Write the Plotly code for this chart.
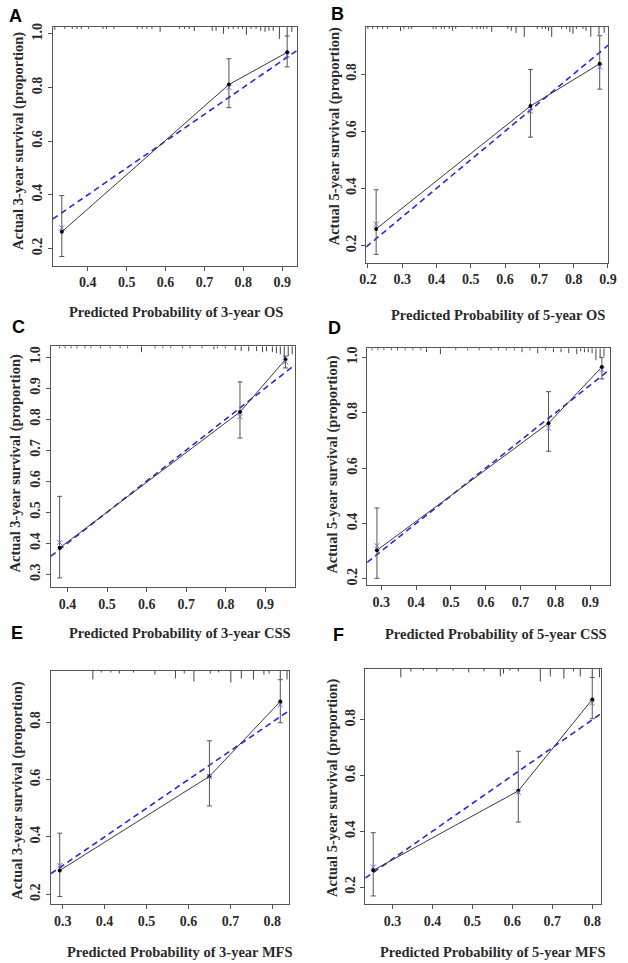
import plotly.graph_objects as go

W, H = 628, 963

# ---------------- data ----------------
panel_names = ["A", "B", "C", "D", "E", "F"]
x_titles = ["Predicted Probability of 3-year OS", "Predicted Probability of 5-year OS",
            "Predicted Probability of 3-year CSS", "Predicted Probability of 5-year CSS",
            "Predicted Probability of 3-year MFS", "Predicted Probability of 5-year MFS"]
y_titles = ["Actual 3-year survival (proportion)", "Actual 5-year survival (proportion)",
            "Actual 3-year survival (proportion)", "Actual 5-year survival (proportion)",
            "Actual 3-year survival (proportion)", "Actual 5-year survival (proportion)"]

A_pred = [0.333, 0.763, 0.913]
A_obs = [0.262, 0.811, 0.931]
A_lo = [0.170, 0.725, 0.877]
A_hi = [0.397, 0.907, 0.992]
A_bc = [0.277, 0.800, 0.920]
A_rug_x = [0.315, 0.341, 0.360, 0.372, 0.383, 0.402, 0.439, 0.448, 0.467, 0.527, 0.540, 0.552,
           0.565, 0.586, 0.636, 0.649, 0.661, 0.674, 0.720, 0.730, 0.749, 0.762, 0.774, 0.787,
           0.798, 0.808, 0.820, 0.833, 0.845, 0.856, 0.866, 0.877, 0.893, 0.913, 0.925]
A_rug_h = [3, 2, 2, 2, 2, 2, 2, 2, 2, 2, 2, 2,
           2, 5, 2, 2, 2, 4, 4, 4, 7, 2, 2, 2,
           2, 8, 2, 2, 4, 5, 4, 4, 12, 10, 5]

B_pred = [0.224, 0.674, 0.876]
B_obs = [0.258, 0.688, 0.836]
B_lo = [0.169, 0.579, 0.747]
B_hi = [0.395, 0.816, 0.934]
B_bc = [0.275, 0.670, 0.825]
B_rug_x = [0.200, 0.214, 0.228, 0.243, 0.257, 0.295, 0.305, 0.319, 0.328, 0.390, 0.399, 0.414,
           0.423, 0.437, 0.447, 0.456, 0.504, 0.518, 0.528, 0.537, 0.547, 0.561, 0.608, 0.618,
           0.632, 0.656, 0.694, 0.708, 0.718, 0.727, 0.736, 0.765, 0.779, 0.789, 0.798, 0.808,
           0.827, 0.836, 0.850, 0.874, 0.889]
B_rug_h = [2, 2, 2, 2, 2, 4, 2, 2, 2, 2, 2, 2,
           2, 2, 4, 2, 2, 2, 2, 2, 2, 5, 2, 4,
           6, 10, 2, 2, 2, 4, 10, 2, 2, 5, 7, 2,
           2, 4, 10, 8, 6]

C_pred = [0.380, 0.836, 0.951]
C_obs = [0.385, 0.823, 0.992]
C_lo = [0.288, 0.739, 0.965]
C_hi = [0.551, 0.920, 1.003]
C_bc = [0.402, 0.808, 0.985]
C_rug_x = [0.380, 0.394, 0.409, 0.424, 0.444, 0.459, 0.483, 0.508, 0.533, 0.552, 0.587, 0.621,
           0.641, 0.661, 0.691, 0.710, 0.740, 0.770, 0.779, 0.799, 0.824, 0.839, 0.858, 0.878,
           0.893, 0.903, 0.918, 0.928, 0.938, 0.948, 0.958, 0.968]
C_rug_h = [2, 2, 2, 2, 2, 2, 2, 2, 2, 2, 6, 2,
           2, 2, 2, 2, 2, 3, 2, 2, 4, 5, 5, 5,
           6, 5, 6, 7, 8, 12, 10, 8]

D_pred = [0.288, 0.780, 0.933]
D_obs = [0.303, 0.762, 0.965]
D_lo = [0.202, 0.661, 0.922]
D_hi = [0.456, 0.876, 1.000]
D_bc = [0.320, 0.745, 0.955]
D_rug_x = [0.274, 0.291, 0.308, 0.330, 0.347, 0.369, 0.391, 0.414, 0.430, 0.470, 0.514, 0.548,
           0.581, 0.615, 0.637, 0.659, 0.682, 0.704, 0.727, 0.749, 0.771, 0.794, 0.816, 0.838,
           0.861, 0.872, 0.883, 0.894, 0.905, 0.916, 0.928, 0.939]
D_rug_h = [2, 2, 2, 2, 2, 2, 2, 2, 4, 6, 2, 2,
           2, 2, 2, 2, 2, 4, 2, 5, 2, 4, 4, 5,
           6, 3, 4, 4, 5, 12, 10, 8]

E_pred = [0.293, 0.650, 0.819]
E_obs = [0.283, 0.611, 0.872]
E_lo = [0.192, 0.508, 0.798]
E_hi = [0.413, 0.735, 0.948]
E_bc = [0.300, 0.610, 0.860]
E_rug_x = [0.372, 0.392, 0.415, 0.435, 0.469, 0.520, 0.569, 0.590, 0.613, 0.652, 0.672, 0.701,
           0.726, 0.755, 0.780, 0.792, 0.819, 0.835]
E_rug_h = [9, 2, 2, 3, 2, 4, 8, 3, 11, 3, 2, 12,
           8, 9, 4, 3, 9, 9]

F_pred = [0.252, 0.615, 0.800]
F_obs = [0.260, 0.545, 0.873]
F_lo = [0.168, 0.433, 0.804]
F_hi = [0.395, 0.687, 0.952]
F_bc = [0.272, 0.540, 0.860]
F_rug_x = [0.321, 0.346, 0.378, 0.411, 0.452, 0.491, 0.529, 0.570, 0.578, 0.594, 0.615, 0.670,
           0.695, 0.729, 0.753, 0.770, 0.800, 0.818]
F_rug_h = [9, 3, 2, 3, 2, 4, 3, 8, 5, 2, 3, 13,
           8, 10, 3, 8, 9, 9]

x_ticks = [[0.4, 0.5, 0.6, 0.7, 0.8, 0.9],
           [0.2, 0.3, 0.4, 0.5, 0.6, 0.7, 0.8, 0.9],
           [0.4, 0.5, 0.6, 0.7, 0.8, 0.9],
           [0.3, 0.4, 0.5, 0.6, 0.7, 0.8, 0.9],
           [0.3, 0.4, 0.5, 0.6, 0.7, 0.8],
           [0.3, 0.4, 0.5, 0.6, 0.7, 0.8]]
y_ticks = [[0.2, 0.4, 0.6, 0.8, 1.0],
           [0.2, 0.4, 0.6, 0.8],
           [0.3, 0.4, 0.5, 0.6, 0.7, 0.8, 0.9, 1.0],
           [0.2, 0.4, 0.6, 0.8, 1.0],
           [0.2, 0.4, 0.6, 0.8],
           [0.2, 0.4, 0.6, 0.8]]
x_ranges = [[0.310, 0.938], [0.195, 0.901], [0.358, 0.975], [0.260, 0.957], [0.272, 0.840], [0.232, 0.823]]
y_ranges = [[0.136, 1.026], [0.140, 0.965], [0.259, 1.035], [0.178, 1.033], [0.165, 0.980], [0.138, 0.984]]

# ---------------- layout geometry (pixels) ----------------
boxes = [(47, 297, 23, 263), (368, 616, 23, 260),
         (45, 295, 344, 586), (369, 618, 346, 584),
         (45, 289, 670, 905), (367, 609, 668, 905)]
letter_pos = [(9, 12), (339, 10), (12, 325), (336, 326), (10, 632), (340, 634)]
xtitle_pos = [(173, 310), (503, 313), (177, 632), (501, 633), (177, 953), (498, 953)]
ytitle_pos = [(12, 138), (335, 133), (9, 462), (334, 463), (11, 791), (334, 788)]

panels = [
    (A_pred, A_obs, A_lo, A_hi, A_bc, A_rug_x, A_rug_h),
    (B_pred, B_obs, B_lo, B_hi, B_bc, B_rug_x, B_rug_h),
    (C_pred, C_obs, C_lo, C_hi, C_bc, C_rug_x, C_rug_h),
    (D_pred, D_obs, D_lo, D_hi, D_bc, D_rug_x, D_rug_h),
    (E_pred, E_obs, E_lo, E_hi, E_bc, E_rug_x, E_rug_h),
    (F_pred, F_obs, F_lo, F_hi, F_bc, F_rug_x, F_rug_h),
]

SERIF = "Liberation Serif"
SANS = "Liberation Sans"
AX = "#555555"
TXT = "#2a2a2a"

fig = go.Figure()
layout = dict(width=W, height=H, margin=dict(l=0, r=0, t=0, b=0),
              paper_bgcolor="white", plot_bgcolor="white", showlegend=False)
annotations = []

for i, (pred, obs, lo, hi, bc, rx, rh) in enumerate(panels):
    k = "" if i == 0 else str(i + 1)
    xa, ya = "x" + k, "y" + k
    x0, x1, y0, y1 = boxes[i]
    xr, yr = x_ranges[i], y_ranges[i]
    axis_common = dict(showline=True, mirror=True, linecolor=AX, linewidth=1,
                       ticks="outside", ticklen=4, tickcolor=AX, tickwidth=1,
                       showgrid=False, zeroline=False,
                       tickfont=dict(family=SERIF, size=14, color=TXT, weight="bold"))
    layout["xaxis" + k] = dict(domain=[x0 / W, x1 / W], range=xr, anchor=ya,
                               tickvals=x_ticks[i], ticktext=[f"{v:.1f}" for v in x_ticks[i]],
                               **axis_common)
    layout["yaxis" + k] = dict(domain=[1 - y1 / H, 1 - y0 / H], range=yr, anchor=xa,
                               tickvals=y_ticks[i], ticktext=[f"{v:.1f}" for v in y_ticks[i]],
                               tickangle=-90, **axis_common)

    # rug of predicted values hanging from the top axis
    px_per_unit = (y1 - y0) / (yr[1] - yr[0])
    rug_x, rug_y = [], []
    for p, h in zip(rx, rh):
        rug_x += [p, p, None]
        rug_y += [yr[1], yr[1] - h / px_per_unit, None]
    fig.add_trace(go.Scatter(x=rug_x, y=rug_y, mode="lines", xaxis=xa, yaxis=ya,
                             line=dict(color="#444444", width=1), hoverinfo="skip"))

    # ideal line
    fig.add_trace(go.Scatter(x=xr, y=xr, mode="lines", xaxis=xa, yaxis=ya,
                             line=dict(color="#2a2ad6", width=1.6, dash="6px,4px")))

    # observed calibration line with error bars
    fig.add_trace(go.Scatter(x=pred, y=obs, mode="lines+markers", xaxis=xa, yaxis=ya,
                             line=dict(color="#3a3a3a", width=1),
                             marker=dict(color="black", size=4),
                             error_y=dict(type="data", symmetric=False,
                                          array=[h - o for h, o in zip(hi, obs)],
                                          arrayminus=[o - l for o, l in zip(obs, lo)],
                                          color="#555555", thickness=1, width=2.5)))

    # bias-corrected estimates
    fig.add_trace(go.Scatter(x=pred, y=bc, mode="markers", xaxis=xa, yaxis=ya,
                             marker=dict(symbol="x-thin", size=5, color="#6b6bd8",
                                         line=dict(color="#6b6bd8", width=1))))

    lx, ly = letter_pos[i]
    annotations.append(dict(text=panel_names[i], x=lx / W, y=1 - ly / H, xref="paper", yref="paper",
                            showarrow=False, xanchor="center", yanchor="middle",
                            font=dict(family=SANS, size=18, color="black", weight="bold")))
    tx, ty = xtitle_pos[i]
    annotations.append(dict(text=x_titles[i], x=tx / W, y=1 - ty / H, xref="paper", yref="paper",
                            showarrow=False, xanchor="center", yanchor="middle",
                            font=dict(family=SERIF, size=14.5, color=TXT, weight="bold")))
    vx, vy = ytitle_pos[i]
    annotations.append(dict(text=y_titles[i], x=vx / W, y=1 - vy / H, xref="paper", yref="paper",
                            showarrow=False, xanchor="center", yanchor="middle", textangle=-90,
                            font=dict(family=SERIF, size=14.5, color=TXT, weight="bold")))

layout["annotations"] = annotations
fig.update_layout(**layout)
fig.write_html("out.html", config={"displayModeBar": False},
               post_script="document.body.style.margin='0px';document.body.style.overflow='hidden';")
